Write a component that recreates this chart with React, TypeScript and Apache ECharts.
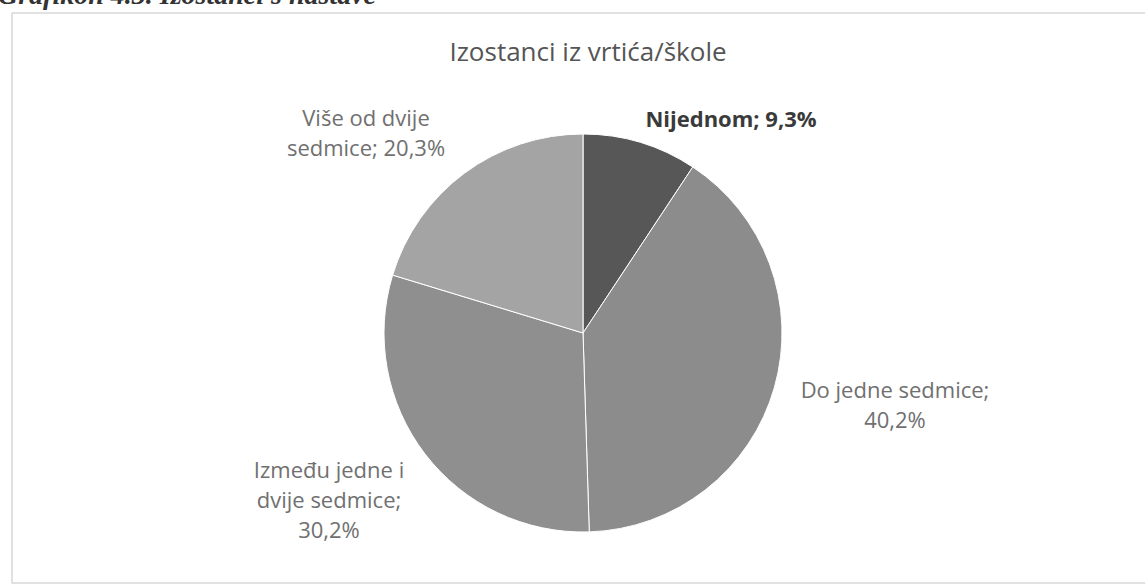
import React, { useEffect, useRef } from "react";
import * as echarts from "echarts";

const categories = ["Nijednom", "Do jedne sedmice", "Između jedne i dvije sedmice", "Više od dvije sedmice"];
const values = [9.3, 40.2, 30.2, 20.3];
const labelTexts = ["Nijednom; 9,3%", "Do jedne sedmice;\n40,2%", "Između jedne i\ndvije sedmice;\n30,2%", "Više od dvije\nsedmice; 20,3%"];
const sliceColors = ["#575757", "#8c8c8c", "#8f8f8f", "#a4a4a4"];
const labelPositions = [
  [731, 118],
  [895, 404],
  [329, 499],
  [366, 132],
];

export default function App() {
  const ref = useRef<HTMLDivElement>(null);
  useEffect(() => {
    document.body.style.margin = "0";
    const chart = echarts.init(ref.current!, null, { renderer: "svg" });
    chart.setOption({
      animation: false,
      backgroundColor: "#ffffff",
      title: {
        text: "Izostanci iz vrtića/škole",
        left: 583,
        top: 33,
        textAlign: "center",
        textStyle: { fontFamily: "Open Sans", fontSize: 26, fontWeight: "normal", color: "#555555" },
      },
      graphic: [
        {
          type: "rect",
          shape: { x: 12, y: 13, width: 1150, height: 570 },
          style: { fill: "none", stroke: "#d8d8d8", lineWidth: 1.5 },
        },
        {
          type: "text",
          x: -2,
          y: 8,
          style: {
            text: "Grafikon 4.3. Izostanci s nastave",
            font: "italic bold 28px 'Liberation Serif'",
            fill: "#333333",
            verticalAlign: "bottom",
          },
        },
      ],
      series: [
        {
          type: "pie",
          center: [583, 333],
          radius: 199,
          startAngle: 90,
          clockwise: true,
          data: categories.map((c, i) => ({
            name: c,
            value: values[i],
            itemStyle: { color: sliceColors[i] },
            label: {
              formatter: labelTexts[i],
              fontWeight: i === 0 ? "bold" : "normal",
              color: i === 0 ? "#3a3a3a" : "#707070",
            },
          })),
          itemStyle: { borderColor: "#ffffff", borderWidth: 1 },
          label: {
            show: true,
            position: "outside",
            fontFamily: "Open Sans",
            fontSize: 22,
            lineHeight: 30,
            align: "center",
          },
          labelLine: { show: false },
          labelLayout: (params: any) => {
            const p = labelPositions[params.dataIndex];
            return { x: p[0], y: p[1], align: "center", verticalAlign: "middle" };
          },
          emphasis: { disabled: true },
        },
      ],
    });
    return () => chart.dispose();
  }, []);
  return <div ref={ref} style={{ width: 1145, height: 588 }} />;
}
